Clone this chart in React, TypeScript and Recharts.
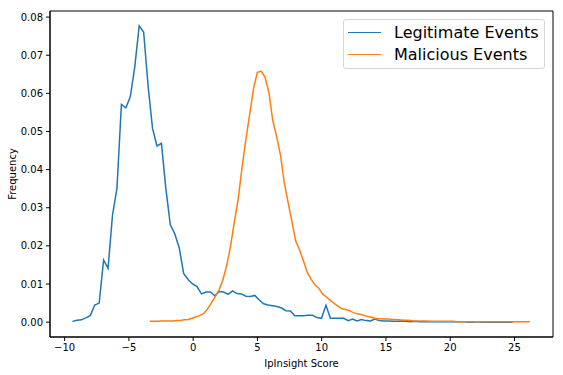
import { Line, LineChart, ReferenceArea, XAxis, YAxis } from "recharts";

// histogram bin centres: first bin and bin width
const LEGIT_START = -9.39;
const LEGIT_STEP = 0.346;
const LEGIT_FREQ = [
  0.0002, 0.0005, 0.0006, 0.0011, 0.0017, 0.0045, 0.005, 0.0163, 0.0141, 0.0281,
  0.0351, 0.0571, 0.0562, 0.0591, 0.0669, 0.0777, 0.0761, 0.062, 0.0508, 0.0462,
  0.0469, 0.035, 0.0255, 0.0232, 0.0195, 0.0128, 0.0112, 0.01, 0.0093, 0.0074,
  0.0079, 0.0079, 0.0069, 0.008, 0.0079, 0.0073, 0.0082, 0.0075, 0.0074, 0.0068,
  0.0067, 0.007, 0.0058, 0.0048, 0.0045, 0.0043, 0.0041, 0.0037, 0.003, 0.0029,
  0.0017, 0.0017, 0.0017, 0.0018, 0.0018, 0.0012, 0.001, 0.0044, 0.001, 0.001,
  0.001, 0.001, 0.0004, 0.0008, 0.0003, 0.0007, 0.0004, 0.0003, 0.0008, 0.0004,
  0.0003, 0.0003, 0.0002, 0.0002, 0.0003, 0.0002, 0.0001, 0.0002, 0.0001, 0.0001,
  0.0001, 0.0001, 0.0001, 0.0001, 0.0001, 0.0001, 0.0001, 0.0001, 0.0001, 0.0,
  0.0, 0.0001, 0.0, 0.0, 0.0, 0.0, 0.0, 0.0, 0.0, 0.0,
];

const MAL_START = -3.37;
const MAL_STEP = 0.2987;
const MAL_FREQ = [
  0.0002, 0.0002, 0.0002, 0.0003, 0.0003, 0.0003, 0.0003, 0.0004, 0.0004, 0.0006,
  0.0007, 0.001, 0.0014, 0.0017, 0.0022, 0.0034, 0.005, 0.0066, 0.0084, 0.011,
  0.0148, 0.0198, 0.0262, 0.0322, 0.0404, 0.0478, 0.0545, 0.0612, 0.0655, 0.0658,
  0.0643, 0.0603, 0.053, 0.0488, 0.044, 0.0367, 0.0315, 0.0264, 0.0213, 0.019,
  0.0161, 0.0131, 0.0112, 0.0098, 0.0089, 0.0074, 0.0066, 0.0057, 0.0049, 0.0042,
  0.0035, 0.0033, 0.003, 0.0025, 0.0022, 0.002, 0.0017, 0.0014, 0.0012, 0.0009,
  0.0009, 0.0008, 0.0008, 0.0007, 0.0007, 0.0006, 0.0005, 0.0005, 0.0004, 0.0003,
  0.0003, 0.0003, 0.0003, 0.0002, 0.0002, 0.0002, 0.0002, 0.0002, 0.0002, 0.0002,
  0.0001, 0.0001, 0.0001, 0.0001, 0.0001, 0.0001, 0.0001, 0.0001, 0.0001, 0.0001,
  0.0001, 0.0001, 0.0001, 0.0001, 0.0001, 0.0001, 0.0001, 0.0001, 0.0001, 0.0001,
];

const X_TICKS = [-10, -5, 0, 5, 10, 15, 20, 25];
const Y_TICKS = [0, 0.01, 0.02, 0.03, 0.04, 0.05, 0.06, 0.07, 0.08];
const X_DOMAIN = [-11.14, 28.0];
const Y_DOMAIN = [-0.0039, 0.0816];

const SERIES = [
  { name: "Legitimate Events", color: "#1f77b4" },
  { name: "Malicious Events", color: "#ff7f0e" },
];

const FONT = "DejaVu Sans, sans-serif";

const legitData = LEGIT_FREQ.map((y, i) => ({ x: LEGIT_START + i * LEGIT_STEP, y }));
const malData = MAL_FREQ.map((y, i) => ({ x: MAL_START + i * MAL_STEP, y }));

const fmtX = (v: number) => (v < 0 ? "\u2212" + Math.abs(v) : String(v));

// matplotlib-style legend box, top right inside the axes
const LegendBox = () => (
  <div
    style={{
      position: "absolute",
      left: 343,
      top: 19,
      width: 202,
      height: 50,
      boxSizing: "border-box",
      border: "1px solid #d6d6d6",
      borderRadius: 3,
      background: "rgba(255,255,255,0.8)",
      paddingTop: 1,
      fontFamily: FONT,
      fontSize: 16,
      color: "#000",
    }}
  >
    {SERIES.map((s) => (
      <div key={s.name} style={{ display: "flex", alignItems: "center", height: 22 }}>
        <span style={{ display: "inline-block", width: 33, height: 0, borderTop: `1.5px solid ${s.color}`, marginLeft: 4, marginRight: 13 }} />
        <span>{s.name}</span>
      </div>
    ))}
  </div>
);

export default function App() {
  return (
    <div style={{ position: "fixed", left: 0, top: 0, width: 563, height: 375, background: "#fff" }}>
      <LineChart width={563} height={375} margin={{ top: 11, right: 10, bottom: 0, left: 0 }}>
        <XAxis
          dataKey="x"
          type="number"
          domain={X_DOMAIN}
          ticks={X_TICKS}
          allowDataOverflow
          tickFormatter={fmtX}
          height={38}
          tickSize={4}
          tickMargin={3}
          stroke="#000"
          tick={{ fill: "#000", fontSize: 10, fontFamily: FONT }}
          label={{ value: "IpInsight Score", position: "insideBottom", offset: 8, fill: "#000", fontSize: 10, fontFamily: FONT }}
        />
        <YAxis
          type="number"
          domain={Y_DOMAIN}
          ticks={Y_TICKS}
          allowDataOverflow
          tickFormatter={(v: number) => v.toFixed(2)}
          width={50}
          tickSize={4}
          tickMargin={3}
          stroke="#000"
          tick={{ fill: "#000", fontSize: 10, fontFamily: FONT }}
          label={{ value: "Frequency", angle: -90, position: "insideLeft", offset: 12, fill: "#000", fontSize: 10, fontFamily: FONT, style: { textAnchor: "middle" } }}
        />
        <ReferenceArea
          x1={X_DOMAIN[0]}
          x2={X_DOMAIN[1]}
          y1={Y_DOMAIN[0]}
          y2={Y_DOMAIN[1]}
          fill="none"
          stroke="#000"
          strokeWidth={1}
          ifOverflow="visible"
        />
        <Line
          data={legitData}
          dataKey="y"
          name={SERIES[0].name}
          stroke={SERIES[0].color}
          strokeWidth={1.5}
          dot={false}
          type="linear"
          isAnimationActive={false}
        />
        <Line
          data={malData}
          dataKey="y"
          name={SERIES[1].name}
          stroke={SERIES[1].color}
          strokeWidth={1.5}
          dot={false}
          type="linear"
          isAnimationActive={false}
        />
      </LineChart>
      <LegendBox />
    </div>
  );
}
